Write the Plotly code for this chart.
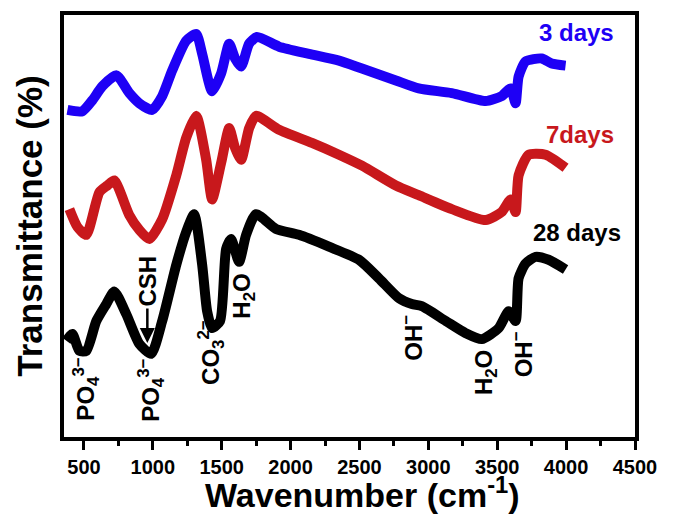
import plotly.graph_objects as go

# FTIR spectra (wavenumber in cm^-1, transmittance in arbitrary offset units)
wn_3d = [380, 488, 561, 633, 735, 829, 901, 995, 1068, 1141, 1242, 1315, 1358, 1430,
         1496, 1554, 1597, 1641, 1699, 1757, 1916, 2133, 2351, 2518, 2764, 2930, 3170,
         3416, 3532, 3597, 3633, 3655, 3706, 3822, 3895, 3996]
t_3d = [77.5, 77.2, 79.8, 83.1, 85.7, 81.5, 79.1, 77.5, 80.8, 86.9, 93.9, 95.5, 90.8, 81.9,
        86.2, 93.2, 89.7, 87.8, 93.2, 94.8, 92.5, 90.8, 89.2, 87.3, 84.5, 82.6, 81.5,
        79.6, 80.8, 82.6, 79.1, 85.4, 89.0, 89.7, 88.5, 88.0]

wn_7d = [394, 452, 517, 612, 670, 720, 829, 901, 974, 1068, 1170, 1242, 1315, 1387, 1430,
         1496, 1554, 1597, 1641, 1699, 1749, 1916, 2155, 2351, 2518, 2764, 2930, 3170,
         3416, 3532, 3597, 3633, 3655, 3728, 3851, 3996]
t_7d = [54.0, 49.8, 47.9, 58.0, 59.6, 60.8, 52.6, 49.1, 46.9, 51.6, 62.0, 70.9, 76.1, 65.7, 56.3,
        65.0, 73.2, 68.5, 65.7, 73.2, 76.1, 72.8, 69.7, 66.9, 64.3, 59.6, 57.3, 54.0,
        51.4, 53.3, 56.3, 53.3, 62.0, 66.9, 66.9, 63.8]

wn_28d = [372, 416, 467, 517, 590, 662, 720, 807, 901, 988, 1068, 1170, 1242, 1300, 1358,
          1394, 1430, 1488, 1532, 1568, 1626, 1677, 1749, 1894, 2061, 2278, 2496, 2641,
          2786, 2880, 2952, 3126, 3271, 3387, 3510, 3583, 3633, 3655, 3706, 3778, 3873, 3996]
t_28d = [22.8, 24.4, 20.4, 20.4, 27.5, 31.5, 34.5, 29.1, 22.1, 19.7, 27.5, 40.8, 48.6, 52.8, 40.8,
         29.8, 25.8, 27.5, 44.6, 46.9, 41.5, 47.9, 52.8, 49.3, 47.9, 45.1, 42.0, 37.6,
         32.9, 31.5, 31.0, 27.5, 24.6, 23.2, 25.8, 29.8, 27.5, 37.6, 41.1, 42.7, 42.0, 39.7]

series_names = ["3 days", "7days", "28 days"]
series_colors = ["#1E00F5", "#C8181C", "#000000"]

# band assignments: wavenumber, label height, text
band_x = [517, 981, 1417, 1656, 2880, 3416, 3677]
band_y = [11.3, 11.0, 20.0, 33.3, 23.5, 15.3, 19.5]
band_text = ["PO<sub>4</sub><sup>3\u2212</sup>", "PO<sub>4</sub><sup>3\u2212</sup>",
             "CO<sub>3</sub><sup>2\u2212</sup>", "H<sub>2</sub>O", "OH<sup>\u2212</sup>",
             "H<sub>2</sub>O", "OH<sup>\u2212</sup>"]

csh_x, csh_y_tip, csh_y_text = 960, 22.3, 36.9

label_x = [4076, 4098, 4076]
label_y = [95.8, 71.8, 48.4]

FONT = "Liberation Sans, Arial, sans-serif"

fig = go.Figure()
for wn, t, name, col in zip([wn_3d, wn_7d, wn_28d], [t_3d, t_7d, t_28d], series_names, series_colors):
    fig.add_trace(go.Scatter(x=wn, y=t, mode="lines", name=name,
                             line=dict(color=col, width=10, shape="spline", smoothing=0.6),
                             showlegend=False))

for name, col, lx, ly in zip(series_names, series_colors, label_x, label_y):
    fig.add_annotation(x=lx, y=ly, text=name, showarrow=False,
                       font=dict(family=FONT, size=24, color=col, weight="bold"))

for bx, by, bt in zip(band_x, band_y, band_text):
    fig.add_annotation(x=bx, y=by, text=bt, textangle=-90, showarrow=False,
                       font=dict(family=FONT, size=24, color="black", weight="bold"))

fig.add_annotation(x=csh_x, y=csh_y_text, text="CSH", textangle=-90, showarrow=False,
                   font=dict(family=FONT, size=24, color="black", weight="bold"))
fig.add_annotation(x=csh_x, y=csh_y_tip, text="", showarrow=True, ax=0, ay=-36,
                   arrowhead=2, arrowsize=1.2, arrowwidth=2.5, arrowcolor="black")

# x-axis title placed as paper-anchored text
fig.add_annotation(xref="paper", yref="paper", x=0.522, y=-0.188, yanchor="bottom",
                   text="Wavenumber (cm<sup>-1</sup>)", showarrow=False,
                   font=dict(family=FONT, size=34, color="black", weight="bold"))

fig.update_layout(
    width=676, height=517,
    margin=dict(l=64, r=41, t=11, b=80),
    paper_bgcolor="white", plot_bgcolor="white",
    font=dict(family=FONT, color="black"),
)
fig.update_xaxes(
    range=[355, 4500], showgrid=False, zeroline=False,
    showline=True, linewidth=4, linecolor="black", mirror=True,
    tickmode="linear", tick0=500, dtick=500,
    ticks="outside", ticklen=9, tickwidth=3, tickcolor="black",
    minor=dict(ticks="outside", ticklen=5, tickwidth=3, tickcolor="black", dtick=250, tick0=250),
    tickfont=dict(family=FONT, size=20, color="black", weight="bold"),
)
fig.update_yaxes(
    range=[0, 100], showgrid=False, zeroline=False,
    showline=True, linewidth=4, linecolor="black", mirror=True,
    showticklabels=False, ticks="",
    title=dict(text="Transmittance (%)", standoff=8,
               font=dict(family=FONT, size=35, color="black", weight="bold")),
)

fig.write_html("out.html")
